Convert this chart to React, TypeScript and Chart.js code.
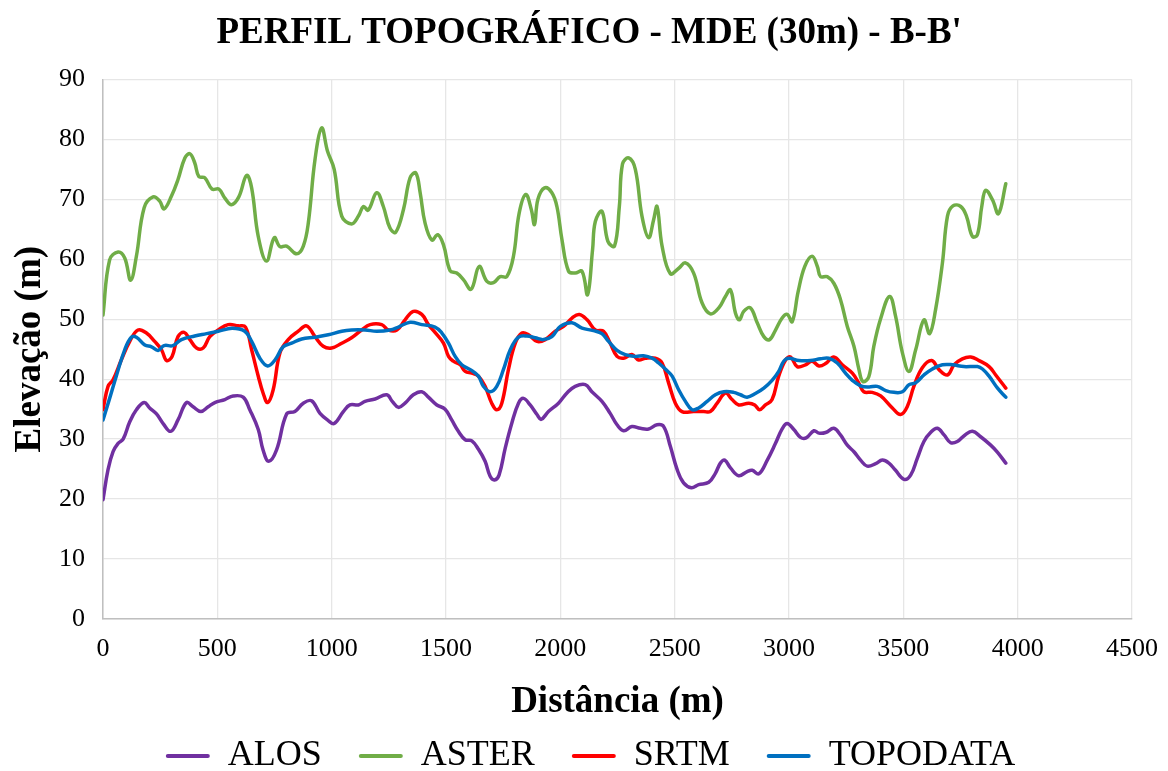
import React, { useEffect, useRef } from "react";
import { Chart, registerables } from "chart.js";

Chart.register(...registerables);

const TITLE = "PERFIL TOPOGRÁFICO - MDE (30m) - B-B'";
const X_TITLE = "Distância (m)";
const Y_TITLE = "Elevação (m)";
const SERIES_NAMES = ["ALOS", "ASTER", "SRTM", "TOPODATA"];
const SERIES_COLORS = ["#7030a0", "#70ad47", "#ff0000", "#0070c0"];

const alosX = [0, 22, 44, 66, 88, 117, 146, 180, 204, 234, 263, 296, 328, 365, 394, 428, 460, 489, 533, 569, 613, 642, 679, 700, 725, 759, 803, 839, 876, 912, 949, 985, 1011, 1051, 1080, 1117, 1146, 1190, 1241, 1265, 1292, 1321, 1357, 1394, 1423, 1460, 1496, 1525, 1554, 1584, 1613, 1642, 1671, 1693, 1712, 1732, 1759, 1788, 1817, 1839, 1868, 1898, 1916, 1948, 1992, 2029, 2065, 2109, 2138, 2182, 2218, 2248, 2277, 2313, 2350, 2386, 2423, 2452, 2481, 2511, 2539, 2573, 2605, 2649, 2678, 2700, 2719, 2744, 2780, 2817, 2839, 2868, 2905, 2941, 2970, 2992, 3021, 3050, 3075, 3109, 3131, 3160, 3196, 3225, 3255, 3284, 3313, 3342, 3379, 3408, 3437, 3466, 3503, 3532, 3561, 3590, 3619, 3649, 3678, 3707, 3736, 3770, 3802, 3838, 3882, 3912, 3948];
const alosY = [19.9, 24.9, 27.9, 29.3, 30.0, 32.9, 34.9, 36.1, 35.2, 34.2, 32.6, 31.3, 33.2, 36.1, 35.4, 34.6, 35.4, 36.1, 36.6, 37.2, 37.0, 34.9, 31.6, 28.2, 26.3, 28.2, 34.2, 34.6, 36.0, 36.4, 34.3, 33.1, 32.6, 34.6, 35.7, 35.7, 36.3, 36.7, 37.4, 36.3, 35.3, 36.0, 37.4, 37.9, 37.0, 35.7, 35.0, 33.2, 31.3, 29.9, 29.7, 28.3, 26.3, 23.8, 23.2, 24.0, 28.5, 32.7, 36.0, 36.8, 35.7, 34.1, 33.3, 34.6, 36.0, 37.7, 38.8, 39.1, 37.9, 36.3, 34.3, 32.4, 31.4, 32.1, 31.8, 31.7, 32.4, 32.1, 28.8, 24.9, 22.7, 21.9, 22.4, 22.8, 24.3, 26.0, 26.5, 25.2, 23.9, 24.6, 24.8, 24.2, 26.5, 29.3, 31.7, 32.6, 31.6, 30.3, 30.2, 31.4, 31.0, 31.1, 31.8, 30.7, 29.0, 27.9, 26.5, 25.5, 25.9, 26.5, 26.0, 24.8, 23.3, 24.0, 26.8, 29.6, 31.1, 31.8, 30.7, 29.4, 29.6, 30.7, 31.3, 30.4, 29.0, 27.8, 26.0];

const asterX = [0, 29, 66, 95, 121, 146, 180, 219, 248, 267, 299, 328, 358, 380, 401, 419, 445, 477, 507, 533, 562, 594, 628, 650, 679, 715, 749, 774, 803, 847, 876, 898, 927, 956, 982, 1011, 1044, 1087, 1117, 1139, 1160, 1197, 1226, 1255, 1280, 1314, 1343, 1368, 1387, 1408, 1438, 1464, 1489, 1518, 1547, 1576, 1610, 1645, 1679, 1708, 1737, 1766, 1795, 1820, 1849, 1873, 1887, 1902, 1931, 1963, 1985, 2007, 2036, 2065, 2095, 2119, 2141, 2153, 2182, 2208, 2237, 2258, 2272, 2299, 2328, 2357, 2386, 2408, 2423, 2445, 2481, 2518, 2547, 2583, 2620, 2656, 2693, 2722, 2744, 2766, 2783, 2802, 2831, 2861, 2890, 2915, 2941, 2970, 2992, 3014, 3040, 3069, 3101, 3124, 3138, 3167, 3196, 3225, 3255, 3284, 3306, 3323, 3349, 3371, 3400, 3440, 3466, 3496, 3525, 3554, 3590, 3615, 3641, 3671, 3693, 3717, 3751, 3776, 3802, 3824, 3843, 3860, 3890, 3916, 3948];
const asterY = [50.7, 59.9, 61.2, 60.2, 56.5, 60.5, 68.6, 70.4, 69.7, 68.4, 70.5, 73.3, 76.9, 77.6, 76.1, 73.8, 73.6, 71.7, 71.7, 70.2, 69.1, 70.4, 74.0, 71.9, 63.8, 59.7, 63.6, 62.1, 62.2, 60.9, 62.2, 66.1, 76.6, 81.9, 78.0, 75.0, 67.2, 65.9, 67.2, 68.8, 68.2, 71.1, 68.8, 65.2, 64.5, 68.3, 73.6, 74.4, 71.1, 66.1, 63.2, 64.1, 62.4, 58.1, 57.7, 56.6, 55.0, 58.8, 56.3, 56.1, 57.1, 57.1, 60.5, 67.7, 70.8, 68.3, 65.8, 70.0, 71.9, 71.1, 68.8, 63.3, 58.0, 57.7, 58.0, 54.1, 61.6, 66.3, 68.0, 63.0, 62.2, 68.8, 75.9, 76.9, 75.0, 67.2, 63.6, 66.6, 68.8, 62.2, 57.6, 58.5, 59.4, 57.7, 52.7, 50.9, 51.9, 53.8, 54.9, 51.0, 49.9, 51.3, 51.9, 49.4, 47.1, 46.6, 48.2, 50.2, 50.8, 49.6, 54.6, 58.8, 60.5, 58.8, 57.1, 57.1, 56.0, 53.3, 48.8, 45.5, 41.6, 39.6, 40.4, 45.5, 50.0, 53.8, 50.5, 44.4, 41.3, 44.9, 49.9, 47.6, 51.6, 59.4, 67.2, 68.9, 68.8, 67.2, 63.8, 64.1, 68.8, 71.5, 69.9, 67.6, 72.6];

const srtmX = [0, 22, 44, 80, 117, 153, 190, 226, 256, 278, 302, 328, 355, 380, 409, 438, 467, 504, 547, 591, 623, 650, 679, 700, 720, 744, 774, 810, 854, 890, 927, 963, 1000, 1044, 1087, 1131, 1168, 1219, 1248, 1285, 1321, 1357, 1394, 1423, 1452, 1489, 1511, 1532, 1562, 1584, 1613, 1642, 1671, 1700, 1722, 1744, 1773, 1803, 1832, 1861, 1898, 1934, 1978, 2014, 2051, 2083, 2117, 2153, 2189, 2218, 2248, 2277, 2313, 2342, 2372, 2415, 2445, 2474, 2503, 2532, 2583, 2627, 2656, 2686, 2722, 2751, 2780, 2824, 2850, 2871, 2897, 2926, 2955, 2985, 3007, 3036, 3072, 3101, 3131, 3160, 3196, 3233, 3277, 3306, 3327, 3364, 3401, 3452, 3488, 3517, 3546, 3583, 3624, 3656, 3693, 3722, 3758, 3795, 3831, 3875, 3904, 3948];
const srtmY = [34.9, 38.8, 39.9, 43.2, 46.3, 48.2, 47.7, 46.3, 44.9, 43.1, 43.8, 47.1, 47.8, 46.6, 45.2, 45.2, 47.1, 48.2, 49.1, 48.9, 48.7, 44.9, 40.5, 37.7, 36.1, 38.2, 44.4, 46.6, 48.0, 48.9, 47.1, 45.5, 45.2, 46.0, 46.9, 48.2, 49.1, 49.1, 48.2, 48.2, 49.9, 51.3, 50.8, 49.1, 47.8, 46.0, 43.8, 43.0, 42.4, 41.3, 41.0, 40.5, 38.8, 36.0, 34.9, 36.0, 41.6, 46.0, 47.7, 47.4, 46.3, 46.6, 48.0, 48.8, 50.2, 50.8, 49.9, 48.2, 48.0, 46.0, 43.8, 43.5, 44.1, 43.2, 43.5, 43.5, 42.7, 39.3, 36.0, 34.6, 34.6, 34.6, 34.6, 36.0, 37.7, 36.6, 35.7, 36.0, 35.7, 34.9, 35.7, 36.6, 40.5, 43.2, 43.7, 42.1, 42.4, 43.0, 42.2, 42.6, 43.7, 42.4, 41.0, 39.3, 37.9, 37.8, 37.2, 35.2, 34.1, 35.4, 38.8, 41.9, 43.1, 41.6, 40.7, 42.4, 43.4, 43.7, 43.1, 42.1, 40.7, 38.5];

const topoX = [0, 29, 58, 95, 124, 146, 183, 212, 241, 267, 306, 343, 401, 453, 504, 565, 620, 650, 686, 720, 752, 788, 825, 869, 927, 985, 1044, 1087, 1146, 1197, 1255, 1292, 1343, 1394, 1452, 1482, 1511, 1540, 1569, 1606, 1642, 1664, 1693, 1722, 1751, 1781, 1817, 1854, 1890, 1926, 1963, 2000, 2051, 2095, 2145, 2182, 2211, 2248, 2284, 2328, 2364, 2401, 2430, 2467, 2489, 2518, 2547, 2576, 2605, 2642, 2678, 2715, 2758, 2788, 2817, 2853, 2890, 2926, 2955, 2977, 2999, 3043, 3094, 3138, 3174, 3211, 3247, 3277, 3313, 3349, 3386, 3423, 3459, 3496, 3525, 3554, 3590, 3627, 3671, 3715, 3765, 3824, 3846, 3875, 3912, 3948];
const topoY = [33.2, 36.8, 40.5, 44.9, 47.0, 47.0, 45.7, 45.4, 44.8, 45.6, 45.6, 46.6, 47.2, 47.6, 48.0, 48.5, 48.0, 46.3, 43.5, 42.2, 43.2, 45.4, 46.0, 46.7, 47.0, 47.4, 48.0, 48.2, 48.2, 48.0, 48.2, 48.7, 49.5, 49.1, 48.7, 47.7, 46.0, 43.8, 42.4, 41.6, 40.5, 38.8, 37.9, 38.8, 41.6, 44.9, 47.0, 47.2, 46.9, 46.6, 47.1, 48.8, 49.4, 48.5, 48.1, 47.6, 46.3, 44.8, 44.1, 43.8, 43.9, 43.5, 42.7, 41.4, 40.5, 38.2, 36.3, 34.9, 35.2, 36.3, 37.4, 37.9, 37.8, 37.4, 37.0, 37.6, 38.5, 39.8, 41.3, 43.0, 43.5, 43.1, 43.1, 43.4, 43.5, 42.7, 41.0, 39.8, 38.9, 38.7, 38.8, 38.1, 37.8, 37.9, 39.1, 39.4, 40.7, 41.7, 42.4, 42.4, 42.1, 42.1, 41.7, 40.5, 38.5, 37.0];

const SERIES_X = [alosX, asterX, srtmX, topoX];
const SERIES_Y = [alosY, asterY, srtmY, topoY];

const X_MIN = 0;
const X_MAX = 4500;
const X_STEP = 500;
const Y_MIN = 0;
const Y_MAX = 90;
const Y_STEP = 10;

const W = 1168;
const H = 784;
const PLOT_RIGHT = 1132;

export default function App() {
  const ref = useRef<HTMLCanvasElement>(null);

  useEffect(() => {
    const canvas = ref.current;
    if (!canvas) return;
    const serif = "'Liberation Serif', 'Times New Roman', serif";
    const datasets = SERIES_NAMES.map((name, i) => ({
      label: name,
      data: SERIES_X[i].map((x, j) => ({ x, y: SERIES_Y[i][j] })),
      borderColor: SERIES_COLORS[i],
      backgroundColor: SERIES_COLORS[i],
      borderWidth: 3.5,
      pointRadius: 0,
      pointHoverRadius: 0,
      tension: 0.4,
      fill: false,
      order: SERIES_NAMES.length - 1 - i,
      borderCapStyle: "round" as const,
      borderJoinStyle: "round" as const,
    }));

    const chart = new Chart(canvas, {
      type: "line",
      data: { datasets },
      options: {
        responsive: false,
        animation: false,
        layout: { padding: { left: 0, right: W - PLOT_RIGHT, top: 0, bottom: 0 } },
        plugins: {
          title: {
            display: true,
            text: "     " + TITLE,
            color: "#000",
            font: { family: serif, size: 37, weight: "bold" },
            padding: { top: 11, bottom: 24 },
          },
          legend: {
            position: "bottom",
            fullSize: false,
            labels: {
              color: "#000",
              font: { family: serif, size: 36 },
              boxWidth: 44,
              boxHeight: 4,
              padding: 10,
              sort: (a: any, b: any) => a.datasetIndex - b.datasetIndex,
              generateLabels: (c: any) => {
                const items = Chart.defaults.plugins.legend.labels.generateLabels(c);
                return items.map((it: any) => ({
                  ...it,
                  text: it.datasetIndex < SERIES_NAMES.length - 1 ? it.text + "   " : it.text + "      ",
                  fillStyle: SERIES_COLORS[it.datasetIndex],
                  strokeStyle: SERIES_COLORS[it.datasetIndex],
                  lineWidth: 0,
                  borderRadius: 2,
                }));
              },
            },
          },
          tooltip: { enabled: false },
        },
        scales: {
          x: {
            type: "linear",
            min: X_MIN,
            max: X_MAX,
            afterFit: (s: any) => {
              s.height = 109;
              s.paddingRight = 0;
              s.paddingLeft = 0;
            },
            ticks: {
              stepSize: X_STEP,
              color: "#000",
              padding: 15,
              maxRotation: 0,
              font: { family: serif, size: 26 },
              callback: (v: any) => String(v),
            },
            grid: { color: "#e6e6e6", lineWidth: 1.3, drawTicks: false },
            border: { color: "#bfbfbf", width: 1.5 },
            title: {
              display: true,
              text: X_TITLE,
              color: "#000",
              font: { family: serif, size: 37, weight: "bold" },
              padding: { top: 0, bottom: 3 },
            },
          },
          y: {
            type: "linear",
            min: Y_MIN,
            max: Y_MAX,
            afterFit: (s: any) => {
              s.width = 103;
            },
            ticks: {
              stepSize: Y_STEP,
              color: "#000",
              padding: 18,
              font: { family: serif, size: 26 },
            },
            grid: { color: "#e6e6e6", lineWidth: 1.3, drawTicks: false },
            border: { color: "#bfbfbf", width: 1.5 },
            title: {
              display: true,
              text: Y_TITLE,
              color: "#000",
              font: { family: serif, size: 37, weight: "bold" },
              padding: { top: 8, bottom: 0 },
            },
          },
        },
      },
    });
    return () => chart.destroy();
  }, []);

  return (
    <div style={{ position: "fixed", left: 0, top: 0, width: W, height: H, background: "#fff" }}>
      <canvas ref={ref} width={W} height={H} style={{ display: "block", width: W, height: H }} />
    </div>
  );
}
